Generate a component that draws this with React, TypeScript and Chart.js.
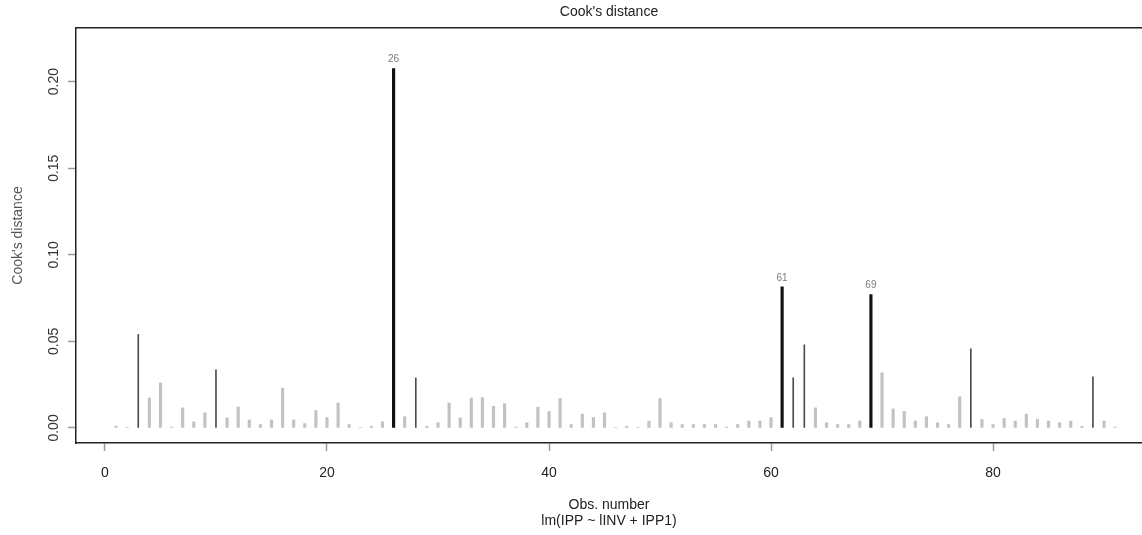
import React, { useEffect, useRef } from "react";
import { Chart, registerables } from "chart.js";

Chart.register(...registerables);

const obsNumbers = [
  1, 2, 3, 4, 5, 6, 7, 8, 9, 10, 11, 12, 13, 14, 15, 16, 17, 18, 19, 20,
  21, 22, 23, 24, 25, 26, 27, 28, 29, 30, 31, 32, 33, 34, 35, 36, 37, 38, 39, 40,
  41, 42, 43, 44, 45, 46, 47, 48, 49, 50, 51, 52, 53, 54, 55, 56, 57, 58, 59, 60,
  61, 62, 63, 64, 65, 66, 67, 68, 69, 70, 71, 72, 73, 74, 75, 76, 77, 78, 79, 80,
  81, 82, 83, 84, 85, 86, 87, 88, 89, 90, 91,
];

const cooksDistance = [
  0.001, 0.0003, 0.054, 0.0173, 0.026, 0.0005, 0.0116, 0.0035, 0.0087, 0.0335,
  0.0058, 0.0121, 0.0046, 0.002, 0.0046, 0.023, 0.0046, 0.0025, 0.01, 0.006,
  0.0144, 0.002, 0.0003, 0.001, 0.0035, 0.2075, 0.0065, 0.0289, 0.001, 0.003,
  0.0144, 0.0058, 0.0173, 0.0175, 0.0125, 0.014, 0.0005, 0.003, 0.012, 0.0095,
  0.017, 0.002, 0.008, 0.006, 0.0087, 0.0003, 0.001, 0.0003, 0.004, 0.017,
  0.003, 0.002, 0.002, 0.002, 0.002, 0.0005, 0.002, 0.004, 0.004, 0.006,
  0.0815, 0.029, 0.048, 0.0116, 0.003, 0.002, 0.002, 0.004, 0.077, 0.0318,
  0.011, 0.0095, 0.004, 0.0065, 0.003, 0.002, 0.018, 0.0457, 0.005, 0.002,
  0.0055, 0.004, 0.008, 0.005, 0.004, 0.003, 0.004, 0.001, 0.0295, 0.004,
  0.0005,
];

// Observations labelled on the plot (largest Cook's distances)
const labelledObs = [26, 61, 69];
// Observations drawn as thin dark lines in the picture
const thinDarkObs = [3, 10, 28, 62, 63, 78, 89];

const xTickValues = [0, 20, 40, 60, 80];
const yTickValues = [0, 0.05, 0.1, 0.15, 0.2];

const chartTitle = "Cook's distance";
const yAxisTitle = "Cook's distance";
const xAxisTitle = ["Obs. number", "lm(IPP ~ lINV + IPP1)"];

const X_MIN = -2.61;
const X_MAX = 93.42;
const Y_MIN = -0.0087;
const Y_MAX = 0.231;

const FONT = "'Liberation Sans', Arial, Helvetica, sans-serif";

export default function App() {
  const canvasRef = useRef<HTMLCanvasElement | null>(null);

  useEffect(() => {
    const canvas = canvasRef.current;
    if (!canvas) return;

    const points = (keep: (n: number) => boolean) =>
      obsNumbers
        .map((n, i) => ({ x: n, y: cooksDistance[i] }))
        .filter((p) => keep(p.x));

    const labelPlugin = {
      id: "obsLabels",
      afterDatasetsDraw(chart: any) {
        const { ctx, scales } = chart;
        ctx.save();
        ctx.font = `10px ${FONT}`;
        ctx.fillStyle = "#7a7a7a";
        ctx.textAlign = "center";
        ctx.textBaseline = "middle";
        labelledObs.forEach((n) => {
          const v = cooksDistance[obsNumbers.indexOf(n)];
          const px = scales.x.getPixelForValue(n);
          const py = scales.y.getPixelForValue(v);
          ctx.fillText(String(n), px, py - 9);
        });
        ctx.restore();
      },
    };

    const chart = new Chart(canvas, {
      type: "bar",
      data: {
        datasets: [
          {
            label: "other",
            data: points((n) => !labelledObs.includes(n) && !thinDarkObs.includes(n)),
            backgroundColor: "#c2c2c2",
            barThickness: 2.5,
            grouped: false,
          } as any,
          {
            label: "thin",
            data: points((n) => thinDarkObs.includes(n)),
            backgroundColor: "#4d4d4d",
            barThickness: 1,
            grouped: false,
          } as any,
          {
            label: "labelled",
            data: points((n) => labelledObs.includes(n)),
            backgroundColor: "#111111",
            barThickness: 2.5,
            grouped: false,
          } as any,
        ],
      },
      options: {
        responsive: false,
        animation: false,
        layout: { padding: 0 },
        plugins: {
          legend: { display: false },
          tooltip: { enabled: false },
          title: { display: false },
        },
        scales: {
          x: {
            type: "linear",
            position: "bottom",
            min: X_MIN,
            max: X_MAX,
            offset: false,
            afterBuildTicks: (s: any) => {
              s.ticks = xTickValues.map((v) => ({ value: v }));
            },
            afterFit: (s: any) => {
              s.height = 92;
            },
            grid: {
              display: true,
              drawOnChartArea: false,
              offset: false,
              tickLength: 8,
              tickColor: "#9a9a9a",
              tickWidth: 1.5,
            },
            border: { display: true, color: "#222", width: 1.5 },
            ticks: {
              color: "#222",
              padding: 14,
              autoSkip: false,
              maxRotation: 0,
              font: { family: FONT, size: 14 },
            },
            title: {
              display: true,
              text: xAxisTitle,
              color: "#222",
              font: { family: FONT, size: 14, lineHeight: 16 / 14 },
              padding: { top: 0, bottom: 6 },
            },
          } as any,
          xTop: {
            type: "linear",
            position: "top",
            min: X_MIN,
            max: X_MAX,
            offset: false,
            afterFit: (s: any) => {
              s.height = 28;
            },
            grid: { display: false },
            ticks: { display: false },
            border: { display: true, color: "#222", width: 1.5 },
            title: {
              display: true,
              text: chartTitle,
              color: "#222",
              font: { family: FONT, size: 14 },
              padding: { top: 4, bottom: 0 },
            },
          } as any,
          y: {
            type: "linear",
            min: Y_MIN,
            max: Y_MAX,
            afterBuildTicks: (s: any) => {
              s.ticks = yTickValues.map((v) => ({ value: v }));
            },
            afterFit: (s: any) => {
              s.width = 76;
            },
            grid: {
              display: true,
              drawOnChartArea: false,
              tickLength: 8,
              tickColor: "#9a9a9a",
              tickWidth: 1.5,
            },
            border: { display: true, color: "#222", width: 1.5 },
            ticks: {
              color: "#333",
              padding: 0,
              minRotation: 90,
              maxRotation: 90,
              crossAlign: "center",
              autoSkip: false,
              font: { family: FONT, size: 14 },
              callback: (v: any) => Number(v).toFixed(2),
            },
            title: {
              display: true,
              text: yAxisTitle,
              color: "#555",
              font: { family: FONT, size: 14 },
              padding: { top: 10, bottom: 0 },
            },
          } as any,
        },
      },
      plugins: [labelPlugin],
    });

    return () => chart.destroy();
  }, []);

  return (
    <div
      style={{
        position: "fixed",
        left: 0,
        top: 0,
        width: 1142,
        height: 535,
        background: "#fff",
      }}
    >
      <canvas ref={canvasRef} width={1142} height={535} style={{ display: "block" }} />
    </div>
  );
}
